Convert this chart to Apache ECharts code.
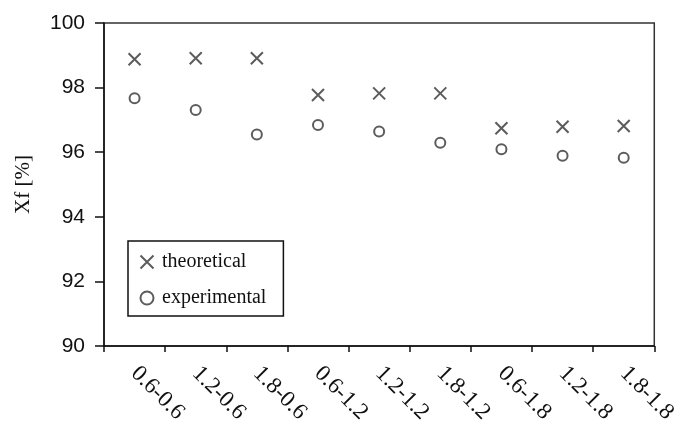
<!DOCTYPE html>
<html>
<head>
<meta charset="utf-8">
<script src="https://cdn.jsdelivr.net/npm/echarts@6/dist/echarts.min.js"></script>
<style>
html,body{margin:0;padding:0;background:#fff;}
#chart{width:680px;height:428px;}
</style>
</head>
<body>
<div id="chart"></div>
<script>
const categories = ['0.6-0.6','1.2-0.6','1.8-0.6','0.6-1.2','1.2-1.2','1.8-1.2','0.6-1.8','1.2-1.8','1.8-1.8'];
const theoretical = [98.88, 98.91, 98.91, 97.77, 97.82, 97.82, 96.74, 96.79, 96.81];
const experimental = [97.67, 97.31, 96.55, 96.84, 96.64, 96.29, 96.09, 95.89, 95.83];
const yTicks = { min: 90, max: 100, interval: 2 };

const crossPath = 'path://M0,0L10,10M10,0L0,10';
const serif = '"Liberation Serif", "DejaVu Serif", serif';
const sans = '"Liberation Sans", Arial, sans-serif';

const chart = echarts.init(document.getElementById('chart'));
chart.setOption({
  animation: false,
  backgroundColor: '#fff',
  grid: {
    left: 104, right: 25, top: 23, bottom: 82,
    show: true, borderColor: '#333', borderWidth: 1.5
  },
  legend: {
    orient: 'vertical',
    left: 128, top: 241,
    padding: [11, 17, 8, 10],
    itemGap: 16,
    itemWidth: 14, itemHeight: 13,
    borderColor: '#111', borderWidth: 1.5,
    textStyle: { fontFamily: serif, fontSize: 20, color: '#111', padding: [0, 0, 0, 3] },
    data: ['theoretical', 'experimental']
  },
  xAxis: {
    type: 'category',
    data: categories,
    boundaryGap: true,
    axisLine: { lineStyle: { color: '#111', width: 1.5 } },
    axisTick: { show: true, alignWithLabel: false, length: 6, inside: false, lineStyle: { color: '#111', width: 1.5 } },
    axisLabel: { rotate: -45, margin: 24, fontFamily: serif, fontSize: 23, color: '#111', interval: 0 },
    splitLine: { show: false }
  },
  yAxis: {
    type: 'value',
    min: yTicks.min, max: yTicks.max, interval: yTicks.interval,
    name: 'Xf [%]',
    nameLocation: 'middle',
    nameRotate: 90,
    nameGap: 70,
    nameTextStyle: { fontFamily: serif, fontSize: 21, color: '#111' },
    axisLine: { show: true, lineStyle: { color: '#111', width: 1.5 } },
    axisTick: { show: true, length: 9, inside: false, lineStyle: { color: '#111', width: 1.5 } },
    axisLabel: { margin: 19, fontFamily: sans, fontSize: 21, color: '#111' },
    splitLine: { show: false }
  },
  series: [
    {
      name: 'theoretical',
      type: 'scatter',
      data: theoretical,
      symbol: crossPath,
      symbolSize: 12,
      itemStyle: { color: 'none', borderColor: '#333', borderWidth: 2 }
    },
    {
      name: 'experimental',
      type: 'scatter',
      data: experimental,
      symbol: 'emptyCircle',
      symbolSize: 10,
      itemStyle: { color: '#333', borderWidth: 2 }
    }
  ]
});
</script>
</body>
</html>
